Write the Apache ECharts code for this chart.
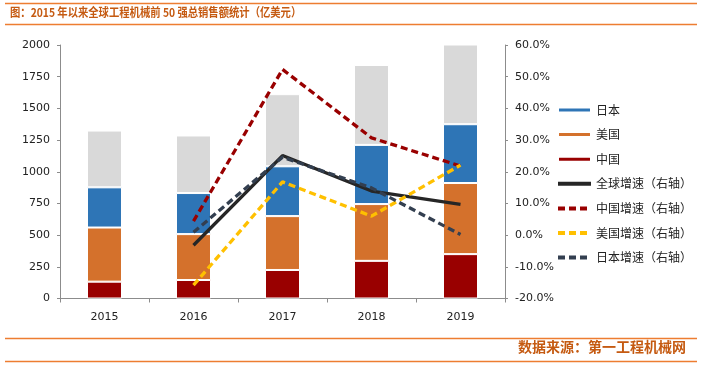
<!DOCTYPE html>
<html>
<head>
<meta charset="utf-8">
<script src="https://cdn.jsdelivr.net/npm/echarts@6/dist/echarts.min.js"></script>
<style>html,body{margin:0;padding:0;background:#fff}#c{width:701px;height:366px}</style>
</head>
<body>
<div id="c"></div>
<script>
var years = ['2015', '2016', '2017', '2018', '2019'];
var chinaSales = [133, 146, 225, 297, 350];
var usSales = [427, 362, 425, 448, 561];
var japanSales = [317, 324, 393, 467, 464];
var otherSales = [448, 454, 569, 630, 638];
var globalGrowth = [null, -3.2, 25.1, 13.9, 9.7];
var chinaGrowth = [null, 4.4, 52.3, 30.7, 21.8];
var usGrowth = [null, -15.8, 16.8, 6.0, 22.1];
var japanGrowth = [null, 0.9, 24.6, 14.9, 0.2];

var chart = echarts.init(document.getElementById('c'));
var axisFont = {fontFamily: 'DejaVu Sans', fontSize: 11, color: '#222'};
var axisLine = {show: true, lineStyle: {color: '#8c8c8c', width: 1}};
var orange = '#ED7D31';
var txtOrange = '#C55A11';
var cjk = '"Noto Sans CJK SC", sans-serif';

function barSeries(name, data, color) {
  return {
    name: name, type: 'bar', stack: 'total', data: data, barWidth: 35,
    itemStyle: {color: color, borderColor: '#fff', borderWidth: 1},
    emphasis: {disabled: true}
  };
}
function lineSeries(name, data, color, dashed) {
  return {
    name: name, type: 'line', yAxisIndex: 1, data: data, symbol: 'none',
    lineStyle: {color: color, width: 3.3, type: dashed ? [7, 4] : 'solid'},
    itemStyle: {color: color}, emphasis: {disabled: true}
  };
}
function lineLegend(name) {
  return {name: name, itemStyle: {opacity: 0}, lineStyle: {width: 4}};
}

chart.setOption({
  animation: false,
  grid: {left: 60, right: 196, top: 45, bottom: 67.5},
  legend: {
    orient: 'vertical', left: 551, top: 99, itemWidth: 33, itemHeight: 5, itemGap: 12.6,
    textStyle: {fontFamily: cjk, fontSize: 12, color: '#222'},
    data: ['日本', '美国', '中国',
      lineLegend('全球增速（右轴）'),
      lineLegend('中国增速（右轴）'),
      lineLegend('美国增速（右轴）'),
      lineLegend('日本增速（右轴）')]
  },
  xAxis: {
    type: 'category', data: years,
    axisLine: axisLine,
    axisTick: {show: true, length: 4, lineStyle: {color: '#8c8c8c'}},
    axisLabel: Object.assign({margin: 13}, axisFont)
  },
  yAxis: [
    {
      type: 'value', min: 0, max: 2000, interval: 250,
      axisLine: axisLine,
      axisTick: {show: true, length: 3, lineStyle: {color: '#8c8c8c'}},
      axisLabel: Object.assign({margin: 10, formatter: function (v) { return String(v); }}, axisFont),
      splitLine: {show: false}
    },
    {
      type: 'value', min: -20, max: 60, interval: 10, position: 'right',
      axisLine: axisLine,
      axisTick: {show: true, length: 3, lineStyle: {color: '#8c8c8c'}},
      axisLabel: Object.assign({margin: 10, formatter: function (v) { return v.toFixed(1) + '%'; }}, axisFont),
      splitLine: {show: false}
    }
  ],
  series: [
    barSeries('中国', chinaSales, '#990000'),
    barSeries('美国', usSales, '#D4712C'),
    barSeries('日本', japanSales, '#2E75B6'),
    barSeries('其他', otherSales, '#D9D9D9'),
    lineSeries('全球增速（右轴）', globalGrowth, '#262626', false),
    lineSeries('中国增速（右轴）', chinaGrowth, '#990000', true),
    lineSeries('美国增速（右轴）', usGrowth, '#FFC000', true),
    lineSeries('日本增速（右轴）', japanGrowth, '#333F50', true)
  ],
  graphic: [
    {type: 'line', shape: {x1: 5, y1: 3.5, x2: 697, y2: 3.5}, style: {stroke: orange, lineWidth: 1.5}},
    {type: 'line', shape: {x1: 5, y1: 24.5, x2: 697, y2: 24.5}, style: {stroke: orange, lineWidth: 1.5}},
    {type: 'text', x: 10, y: 6, scaleX: 0.86, style: {text: '图：2015 年以来全球工程机械前 50 强总销售额统计（亿美元）', fill: txtOrange, font: 'bold 12px ' + cjk}},
    {type: 'line', shape: {x1: 5, y1: 338.5, x2: 697, y2: 338.5}, style: {stroke: orange, lineWidth: 1.5}},
    {type: 'line', shape: {x1: 5, y1: 361.5, x2: 697, y2: 361.5}, style: {stroke: orange, lineWidth: 1.5}},
    {type: 'text', right: 15, top: 340, style: {text: '数据来源：第一工程机械网', fill: txtOrange, font: 'bold 14px ' + cjk}}
  ]
});
</script>
</body>
</html>
